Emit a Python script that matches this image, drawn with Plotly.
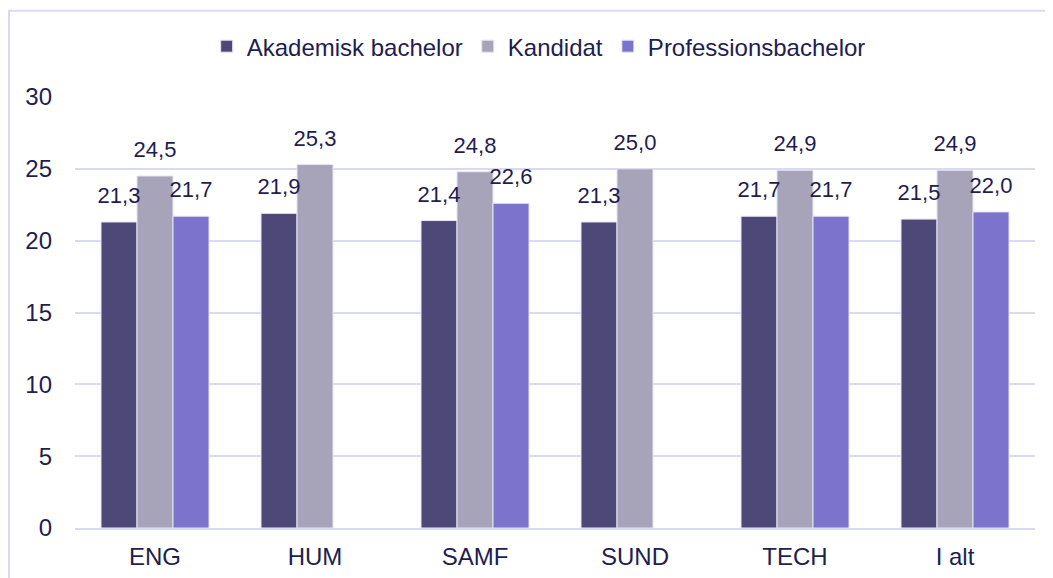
import plotly.graph_objects as go

# Data
categories = ["ENG", "HUM", "SAMF", "SUND", "TECH", "I alt"]
akademisk_bachelor = [21.3, 21.9, 21.4, 21.3, 21.7, 21.5]
kandidat = [24.5, 25.3, 24.8, 25.0, 24.9, 24.9]
professionsbachelor = [21.7, None, 22.6, None, 21.7, 22.0]

series = [
    ("Akademisk bachelor", akademisk_bachelor, "#4e4878"),
    ("Kandidat", kandidat, "#a7a3b9"),
    ("Professionsbachelor", professionsbachelor, "#7b73cc"),
]

text_color = "#221d4f"
grid_color = "#d9d9f0"
gap = 0.325

fig = go.Figure()
for i, (name, values, color) in enumerate(series):
    fig.add_trace(go.Bar(
        x=categories,
        y=values,
        name=name,
        offsetgroup=str(i),
        marker=dict(color=color, line=dict(color="#e6e4f2", width=1)),
    ))

# value labels as text on invisible markers (so they sit a bit higher above the bars)
for i, (name, values, color) in enumerate(series):
    fig.add_trace(go.Scatter(
        x=categories,
        y=values,
        mode="markers+text",
        offsetgroup=str(i),
        marker=dict(size=20, opacity=0),
        texttemplate="%{y:.1f}",
        textposition="top center",
        textfont=dict(size=22, color=text_color),
        showlegend=False,
        hoverinfo="skip",
        cliponaxis=False,
    ))

# Layout
fig.update_layout(
    width=1053,
    height=578,
    margin=dict(l=67, r=26, t=89, b=58),
    paper_bgcolor="white",
    plot_bgcolor="white",
    separators=",.",
    barmode="group",
    bargap=gap,
    bargroupgap=0,
    scattermode="group",
    scattergap=gap,
    font=dict(family="Liberation Sans, Arial, sans-serif", size=24, color=text_color),
    legend=dict(
        orientation="h",
        x=0.483, xanchor="center",
        y=1.117, yanchor="middle",
        font=dict(size=24, color=text_color),
        itemwidth=30,
    ),
    xaxis=dict(
        showgrid=False,
        showline=True,
        linecolor=grid_color,
        linewidth=2,
        ticks="",
        tickfont=dict(size=24, color=text_color),
        ticklabelstandoff=6,
    ),
    yaxis=dict(
        range=[0, 30],
        dtick=5,
        showgrid=True,
        gridcolor=grid_color,
        gridwidth=2,
        zeroline=False,
        ticks="",
        tickfont=dict(size=24, color=text_color),
        ticklabelstandoff=22,
    ),
    shapes=[dict(
        type="rect",
        xref="paper", yref="paper",
        x0=-0.0688, x1=1.1,
        y0=-0.3, y1=1.2,
        line=dict(color=grid_color, width=2),
        fillcolor="rgba(0,0,0,0)",
        layer="below",
    )],
)

fig.write_html("out.html")
